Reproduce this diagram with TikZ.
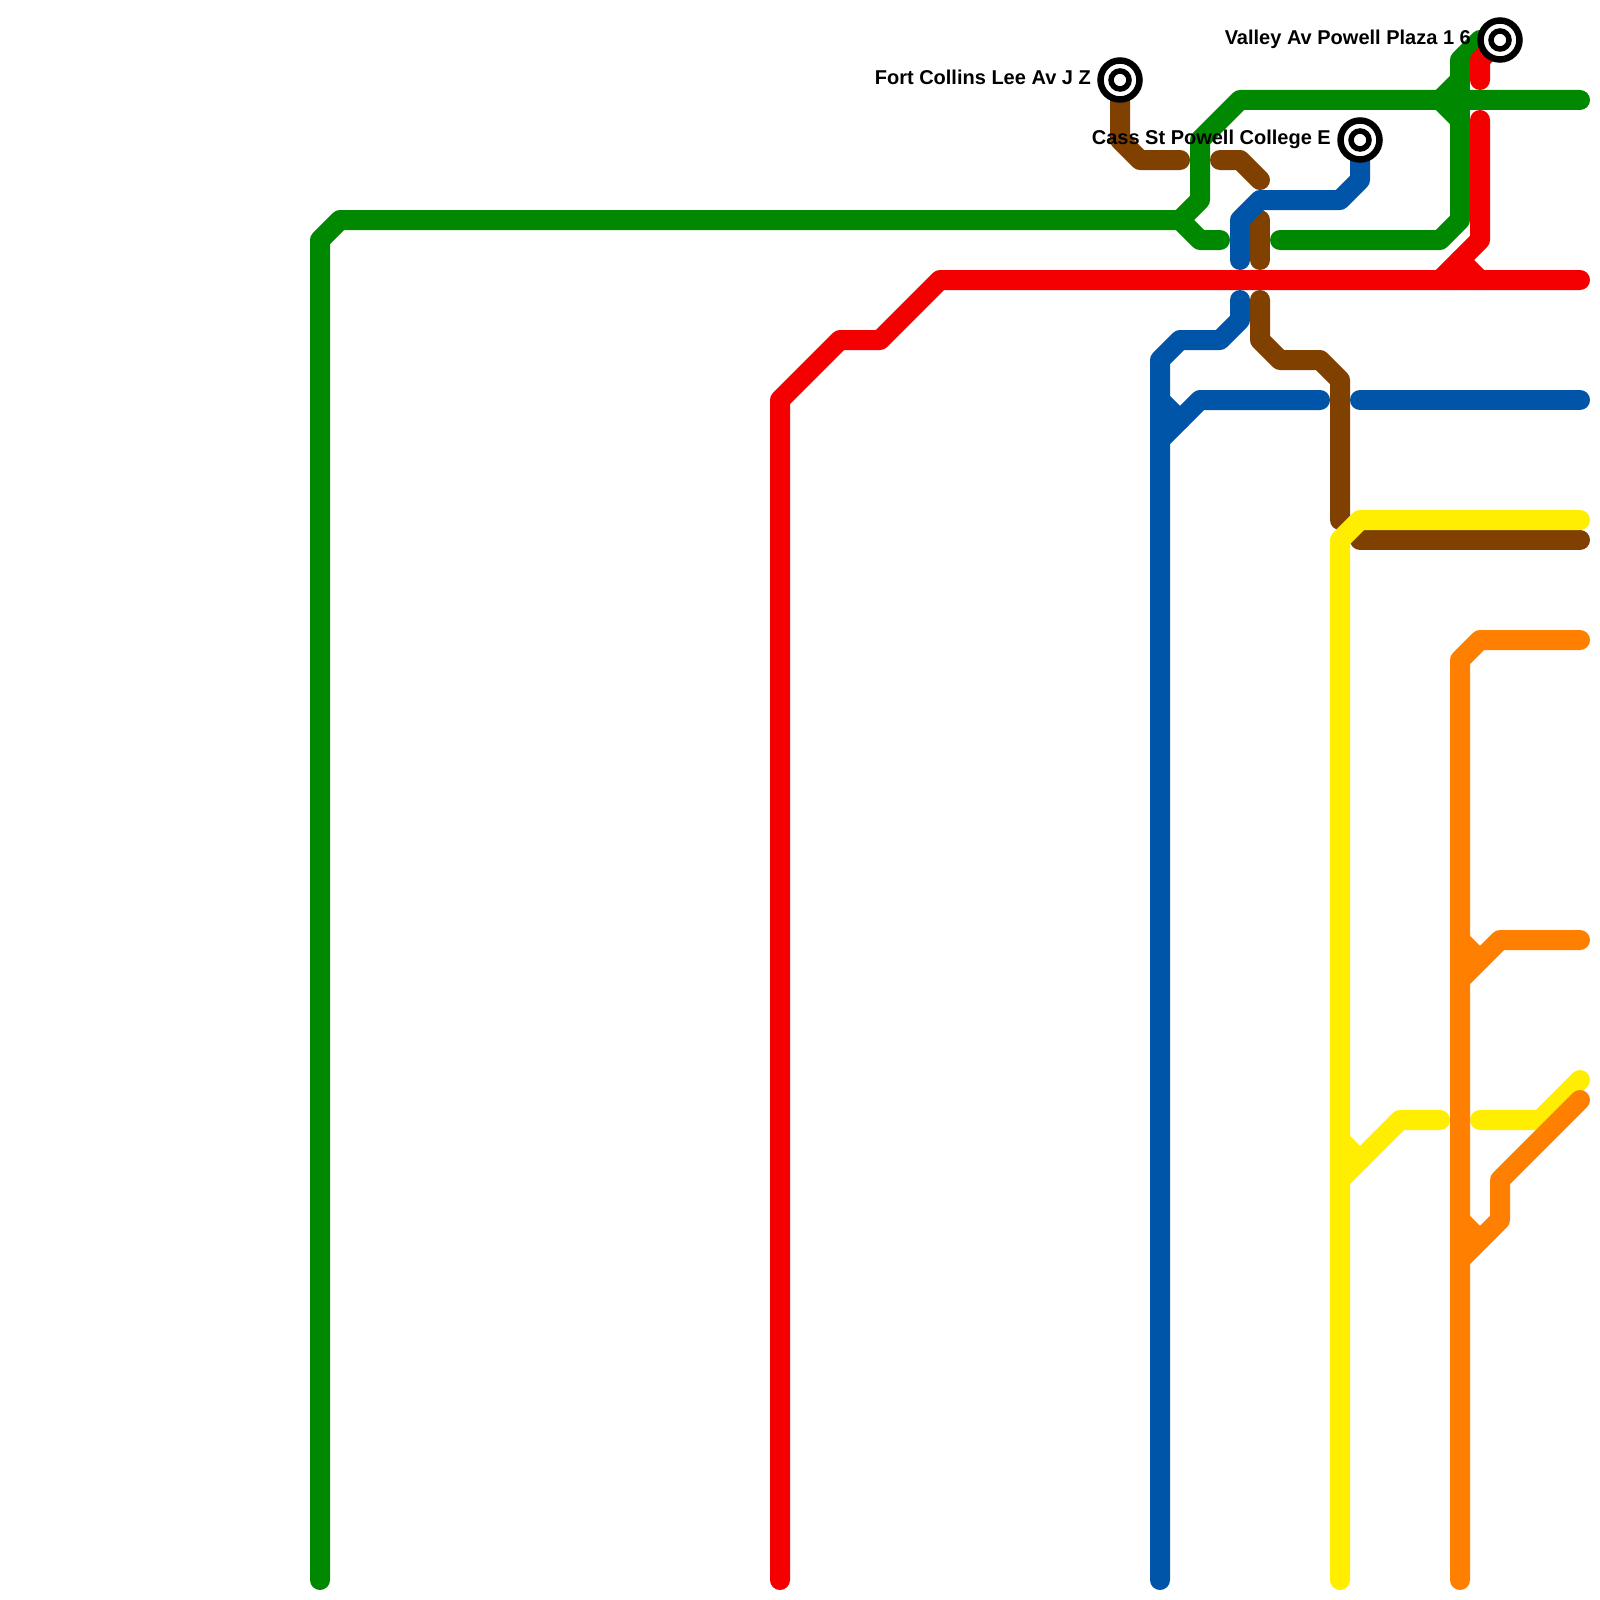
\documentclass[tikz,border=0pt]{standalone}
\usepackage{fontspec}
\setmainfont{Liberation Sans}
\definecolor{lgreen}{RGB}{0,136,0}
\definecolor{lred}{RGB}{245,0,0}
\definecolor{lblue}{RGB}{0,85,168}
\definecolor{lyellow}{RGB}{255,238,0}
\definecolor{lorange}{RGB}{255,128,0}
\definecolor{lbrown}{RGB}{128,64,0}
\tikzset{
  metro/.style={line width=20pt,line cap=round,line join=round},
  stnouter/.style={draw=black,fill=white,line width=6.5pt},
  stninner/.style={draw=black,fill=white,line width=5.5pt},
  stnlabel/.style={anchor=east,inner sep=0pt,font=\fontsize{20}{24}\selectfont\bfseries,text=black},
}
\begin{document}
\begin{tikzpicture}[x=1pt,y=-1pt]
\useasboundingbox (0,0) rectangle (1600,1600);
\fill[white] (0,0) rectangle (1600,1600);
\coordinate (fort) at (1120,80);
\coordinate (cass) at (1360,140);
\coordinate (valley) at (1500,40);
% brown
\draw[metro,lbrown] (fort) -- (1120,140) -- (1140,160) -- (1180,160);
\draw[metro,lbrown] (1220,160) -- (1240,160) -- (1260,180);
\draw[metro,lbrown] (1260,220) -- (1260,260);
\draw[metro,lbrown] (1260,300) -- (1260,340) -- (1280,360) -- (1320,360) -- (1340,380) -- (1340,520);
\draw[metro,lbrown] (1360,540) -- (1580,540);
% green
\draw[metro,lgreen] (320,1580) -- (320,240) -- (340,220) -- (1180,220) -- (1200,200) -- (1200,140) -- (1240,100) -- (1580,100);
\draw[metro,lgreen] (1180,220) -- (1200,240) -- (1220,240);
\draw[metro,lgreen] (1280,240) -- (1440,240) -- (1460,220) -- (1460,120) -- (1440,100) -- (1460,80) -- (1460,60) -- (1480,40) -- (valley);
\draw[metro,lgreen] (1460,120) -- (1460,80);
\fill[lgreen] (1440,100) -- (1460,80) -- (1460,120) -- cycle;
% red
\draw[metro,lred] (780,1580) -- (780,400) -- (840,340) -- (880,340) -- (940,280) -- (1580,280);
\draw[metro,lred] (1440,280) -- (1480,240) -- (1480,120);
\draw[metro,lred] (1460,260) -- (1480,280);
\draw[metro,lred] (1480,80) -- (1480,60) -- (valley);
% blue
\draw[metro,lblue] (cass) -- (1360,180) -- (1340,200) -- (1260,200) -- (1240,220) -- (1240,260);
\draw[metro,lblue] (1240,300) -- (1240,320) -- (1220,340) -- (1180,340) -- (1160,360) -- (1160,1580);
\draw[metro,lblue] (1160,440) -- (1200,400) -- (1320,400);
\draw[metro,lblue] (1160,400) -- (1180,420);
\draw[metro,lblue] (1360,400) -- (1580,400);
% yellow
\draw[metro,lyellow] (1340,1580) -- (1340,540) -- (1360,520) -- (1580,520);
\draw[metro,lyellow] (1340,1180) -- (1400,1120) -- (1440,1120);
\draw[metro,lyellow] (1340,1140) -- (1360,1160);
\draw[metro,lyellow] (1480,1120) -- (1540,1120) -- (1580,1080);
% orange
\draw[metro,lorange] (1460,1580) -- (1460,660) -- (1480,640) -- (1580,640);
\draw[metro,lorange] (1460,980) -- (1500,940) -- (1580,940);
\draw[metro,lorange] (1460,940) -- (1480,960);
\draw[metro,lorange] (1460,1260) -- (1500,1220) -- (1500,1180) -- (1580,1100);
\draw[metro,lorange] (1460,1220) -- (1480,1240);
% stations
\foreach \s in {fort,cass,valley}{
  \draw[stnouter] (\s) circle[radius=19.5];
  \draw[stninner] (\s) circle[radius=9];
}
\node[stnlabel] (fortlabel) at (1091,77) {Fort Collins Lee Av J Z};
\node[stnlabel] (casslabel) at (1331,139) {Cass St Powell College E};
\node[stnlabel] (valleylabel) at (1471,39) {Valley Av Powell Plaza 1 6};
\end{tikzpicture}
\end{document}
